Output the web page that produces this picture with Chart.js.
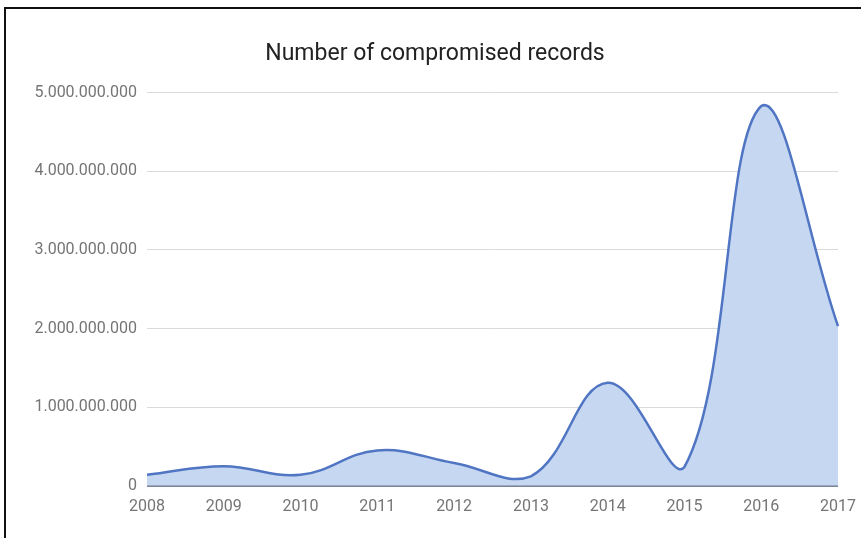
<!DOCTYPE html>
<html>
<head>
<meta charset="utf-8">
<script src="https://cdn.jsdelivr.net/npm/chart.js@4.4.1/dist/chart.umd.min.js"></script>
<style>
  html, body { margin: 0; padding: 0; background: #fff; }
  #wrap { position: relative; width: 861px; height: 538px; }
  #frame {
    position: absolute; left: 4px; top: 7px; right: 0; bottom: 0;
    border-top: 2px solid #111; border-left: 2px solid #111;
    pointer-events: none;
  }
</style>
</head>
<body>
<div id="wrap">
  <canvas id="recordsChart" width="861" height="538"></canvas>
  <div id="frame"></div>
</div>
<script>
  // Chart data
  const years = ["2008", "2009", "2010", "2011", "2012", "2013", "2014", "2015", "2016", "2017"];
  const records = [140000000, 250000000, 140000000, 450000000, 290000000, 120000000, 1310000000, 240000000, 4830000000, 2030000000];
  const yTicks = [0, 1000000000, 2000000000, 3000000000, 4000000000, 5000000000];

  // Format numbers with dot thousand separators, e.g. 5.000.000.000
  function formatDots(value) {
    return String(Math.round(value)).replace(/\B(?=(\d{3})+(?!\d))/g, ".");
  }

  const ctx = document.getElementById("recordsChart").getContext("2d");
  new Chart(ctx, {
    type: "line",
    data: {
      labels: years,
      datasets: [
        {
          label: "Records",
          data: records,
          borderColor: "#5075c3",
          backgroundColor: "#c6d7f1",
          borderWidth: 2.5,
          fill: "origin",
          tension: 0.4,
          pointRadius: 0,
        },
      ],
    },
    options: {
      responsive: false,
      animation: false,
      layout: {
        padding: { left: 32, right: 23, top: 0, bottom: 9 },
      },
      plugins: {
        legend: { display: false },
        tooltip: { enabled: false },
        title: {
          display: true,
          text: "Number of compromised records",
          color: "#222",
          font: { family: "Roboto", size: 23, weight: "normal" },
          padding: { top: 40, bottom: 25 },
        },
      },
      scales: {
        x: {
          offset: false,
          grid: { display: false, drawTicks: false },
          border: { display: false },
          afterFit: function (scale) {
            scale.paddingLeft = 0;
            scale.paddingRight = 0;
          },
          ticks: {
            color: "#757575",
            font: { family: "Roboto", size: 16 },
            padding: 12,
            maxRotation: 0,
            autoSkip: false,
          },
        },
        y: {
          min: 0,
          max: 5000000000,
          afterBuildTicks: function (scale) {
            scale.ticks = yTicks.map((v) => ({ value: v }));
          },
          afterFit: function (scale) {
            scale.width = 115;
          },
          grid: {
            drawTicks: false,
            lineWidth: (c) => (c.tick && c.tick.value === 0 ? 2 : 1),
            color: (c) => (c.tick && c.tick.value === 0 ? "#7b8598" : "#dadada"),
          },
          border: { display: false },
          ticks: {
            color: "#757575",
            font: { family: "Roboto", size: 16 },
            padding: 10,
            callback: (v) => formatDots(v),
          },
        },
      },
    },
  });
</script>
</body>
</html>
